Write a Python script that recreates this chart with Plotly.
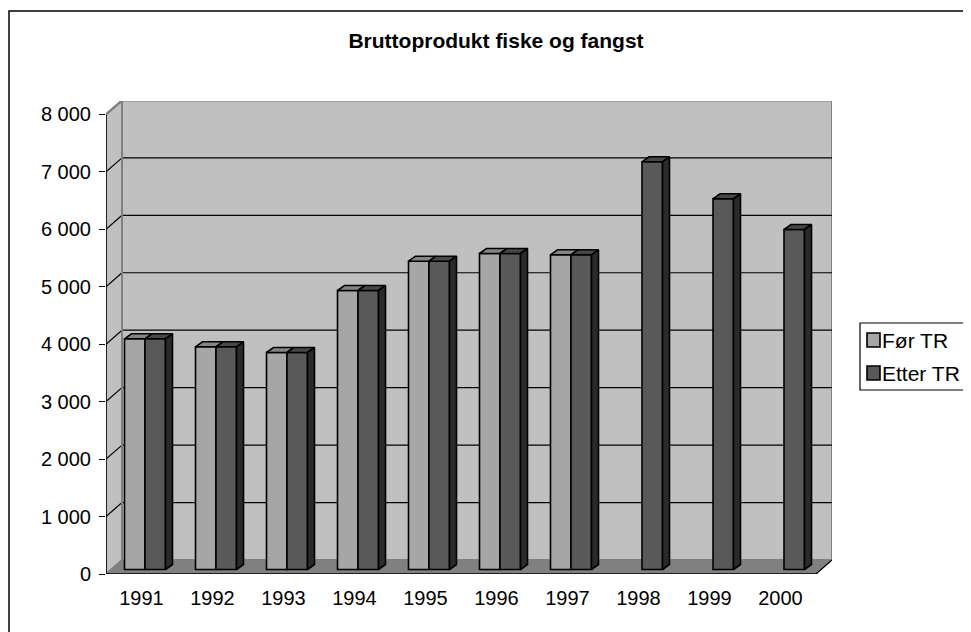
import plotly.graph_objects as go

# ---- data ----
years = ["1991", "1992", "1993", "1994", "1995", "1996", "1997", "1998", "1999", "2000"]
for_tr = [4016, 3876, 3777, 4856, 5366, 5500, 5478, None, None, None]
etter_tr = [4016, 3876, 3777, 4856, 5366, 5500, 5478, 7097, 6453, 5918]
y_tickvals = [0, 1000, 2000, 3000, 4000, 5000, 6000, 7000, 8000]
y_ticktext = ["0", "1 000", "2 000", "3 000", "4 000", "5 000", "6 000", "7 000", "8 000"]
title_text = "Bruttoprodukt fiske og fangst"
names = ["Før TR", "Etter TR"]

# ---- geometry / style (pixels) ----
OFF = 8                      # page body margin
W, H = 971 - OFF, 632 - OFF
L = 106 - OFF
T = 101 - OFF
R = W - (832 - OFF)
B = H - (574 - OFF)
plot_w, plot_h = W - L - R, H - T - B
cat_px = 71.0
ypx_per_unit = 57.45 / 1000.0
x_range = [-0.5, -0.5 + plot_w / cat_px]
y_range = [0, plot_h / ypx_per_unit]
n = len(years)

wall_dx = 16 / cat_px            # depth offset of back wall (x units)
wall_dy = 14 / ypx_per_unit      # depth offset of back wall (y units)
bar_dx = 7 / cat_px              # bar depth
bar_dy = 5 / ypx_per_unit
bar_w = 20.5 / cat_px
shift_x = 3.5 / cat_px
base_y = 4.5 / ypx_per_unit
ymax = 8000

FONT = "Arial, Liberation Sans, sans-serif"
c_light, c_light_top = "#A6A6A6", "#858585"
c_dark, c_dark_top, c_dark_side = "#595959", "#474747", "#2A2A2A"
wall_col, floor_col, edge_col = "#C0C0C0", "#808080", "#808080"


def px2x(p):  # reference page pixel -> paper x
    return (p - OFF - L) / plot_w


def py2y(p):  # reference page pixel -> paper y
    return (H - B - (p - OFF)) / plot_h


fig = go.Figure()

xs = list(range(n))
light_x = [i + shift_x - bar_w / 2 for i in xs]
dark_x = [i + shift_x + bar_w / 2 for i in xs]

fig.add_trace(go.Bar(x=light_x, y=for_tr, base=base_y, width=bar_w, name=names[0],
                     marker=dict(color=c_light, line=dict(color="black", width=1.6)),
                     showlegend=False))
fig.add_trace(go.Bar(x=dark_x, y=etter_tr, base=base_y, width=bar_w, name=names[1],
                     marker=dict(color=c_dark, line=dict(color="black", width=1.6)),
                     showlegend=False))


def poly_trace(polys, color):
    px, py = [], []
    for p in polys:
        for (a, b) in p:
            px.append(a)
            py.append(b)
        px.append(p[0][0]); py.append(p[0][1])
        px.append(None); py.append(None)
    return go.Scatter(x=px, y=py, mode="lines", fill="toself", fillcolor=color,
                      line=dict(color="black", width=1.6), showlegend=False,
                      hoverinfo="skip")


light_tops, dark_tops, dark_sides = [], [], []
for i in xs:
    if for_tr[i] is not None:
        x0 = light_x[i] - bar_w / 2
        x1 = light_x[i] + bar_w / 2
        top = base_y + for_tr[i]
        light_tops.append([(x0, top), (x1, top), (x1 + bar_dx, top + bar_dy), (x0 + bar_dx, top + bar_dy)])
    if etter_tr[i] is not None:
        x0 = dark_x[i] - bar_w / 2
        x1 = dark_x[i] + bar_w / 2
        top = base_y + etter_tr[i]
        dark_tops.append([(x0, top), (x1, top), (x1 + bar_dx, top + bar_dy), (x0 + bar_dx, top + bar_dy)])
        dark_sides.append([(x1, base_y), (x1 + bar_dx, base_y + bar_dy), (x1 + bar_dx, top + bar_dy), (x1, top)])

fig.add_trace(poly_trace(light_tops, c_light_top))
fig.add_trace(poly_trace(dark_tops, c_dark_top))
fig.add_trace(poly_trace(dark_sides, c_dark_side))

# ---- walls, floor, gridlines (below traces) ----
xl, xr = -0.5, n - 0.5
shapes = []
shapes.append(dict(type="rect", xref="x", yref="y", x0=xl + wall_dx, x1=xr + wall_dx,
                   y0=wall_dy, y1=ymax + wall_dy, fillcolor=wall_col,
                   line=dict(color=edge_col, width=2), layer="below"))
shapes.append(dict(type="path", xref="x", yref="y",
                   path=f"M {xl},0 L {xl + wall_dx},{wall_dy} L {xl + wall_dx},{ymax + wall_dy} L {xl},{ymax} Z",
                   fillcolor=wall_col, line=dict(color=edge_col, width=2), layer="below"))
shapes.append(dict(type="path", xref="x", yref="y",
                   path=f"M {xl},0 L {xr},0 L {xr + wall_dx},{wall_dy} L {xl + wall_dx},{wall_dy} Z",
                   fillcolor=floor_col, line=dict(color=floor_col, width=1), layer="below"))
for v in y_tickvals[1:-1]:
    shapes.append(dict(type="line", xref="x", yref="y", x0=xl + wall_dx, x1=xr + wall_dx,
                       y0=v + wall_dy, y1=v + wall_dy, line=dict(color="black", width=1.2), layer="below"))
    shapes.append(dict(type="line", xref="x", yref="y", x0=xl, x1=xl + wall_dx,
                       y0=v, y1=v + wall_dy, line=dict(color="black", width=1.2), layer="below"))
shapes.append(dict(type="line", xref="x", yref="y", x0=xl, x1=xl + wall_dx,
                   y0=ymax, y1=ymax + wall_dy, line=dict(color=edge_col, width=2), layer="below"))
shapes.append(dict(type="line", xref="x", yref="y", x0=xr, x1=xr + wall_dx,
                   y0=0, y1=wall_dy, line=dict(color="black", width=1.2), layer="below"))
shapes.append(dict(type="line", xref="x", yref="y", x0=xl + wall_dx, x1=xl + wall_dx,
                   y0=wall_dy, y1=ymax + wall_dy, line=dict(color=edge_col, width=2), layer="below"))
# axis lines
shapes.append(dict(type="line", xref="x", yref="y", x0=xl, x1=xl, y0=0, y1=ymax,
                   line=dict(color="black", width=1.5)))
shapes.append(dict(type="line", xref="x", yref="y", x0=xl, x1=xr, y0=0, y1=0,
                   line=dict(color="black", width=1.5)))
for k in range(n + 1):
    xb = xl + k
    shapes.append(dict(type="line", xref="x", yref="y", x0=xb, x1=xb, ysizemode="pixel",
                       yanchor=0, y0=0, y1=-7, line=dict(color="black", width=1.2)))
# outer chart border
shapes.append(dict(type="rect", xref="paper", yref="paper", x0=px2x(9), x1=px2x(969),
                   y0=py2y(660), y1=py2y(11), line=dict(color="black", width=1.5),
                   fillcolor="rgba(0,0,0,0)", layer="below"))

# ---- custom legend ----
legend_fill = [c_light, c_dark]
sw_top = [333, 366]
shapes.append(dict(type="rect", xref="paper", yref="paper", x0=px2x(860), x1=px2x(965),
                   y0=py2y(390), y1=py2y(323), line=dict(color="black", width=1.2),
                   fillcolor="white"))
annotations = []
for k in range(2):
    shapes.append(dict(type="rect", xref="paper", yref="paper", x0=px2x(867), x1=px2x(880),
                       y0=py2y(sw_top[k] + 14), y1=py2y(sw_top[k]),
                       line=dict(color="black", width=1.6), fillcolor=legend_fill[k]))
    annotations.append(dict(xref="paper", yref="paper", x=px2x(881), y=py2y(sw_top[k] + 7),
                            xanchor="left", yanchor="middle", showarrow=False, text=names[k],
                            font=dict(family=FONT, size=21, color="black"), borderpad=0))

fig.update_layout(
    width=W, height=H,
    margin=dict(l=L, r=R, t=T, b=B, autoexpand=False),
    paper_bgcolor="white", plot_bgcolor="white",
    barmode="overlay",
    shapes=shapes,
    annotations=annotations,
    font=dict(family=FONT, size=20, color="black"),
    title=dict(text="<b>" + title_text + "</b>", x=(496 - OFF) / W, xanchor="center",
               y=1 - (41 - OFF) / H, yanchor="middle", font=dict(family=FONT, size=21, color="black")),
    xaxis=dict(range=x_range, tickmode="array", tickvals=xs, ticktext=years,
               showgrid=False, zeroline=False, showline=False, ticks="",
               ticklabelstandoff=10, tickfont=dict(size=20)),
    yaxis=dict(range=y_range, tickmode="array", tickvals=y_tickvals, ticktext=y_ticktext,
               showgrid=False, zeroline=False, showline=False, ticks="outside", ticklen=6,
               tickcolor="black", tickwidth=1.2, ticklabelstandoff=4, tickfont=dict(size=20)),
    showlegend=False,
)

fig.write_html("out.html")
